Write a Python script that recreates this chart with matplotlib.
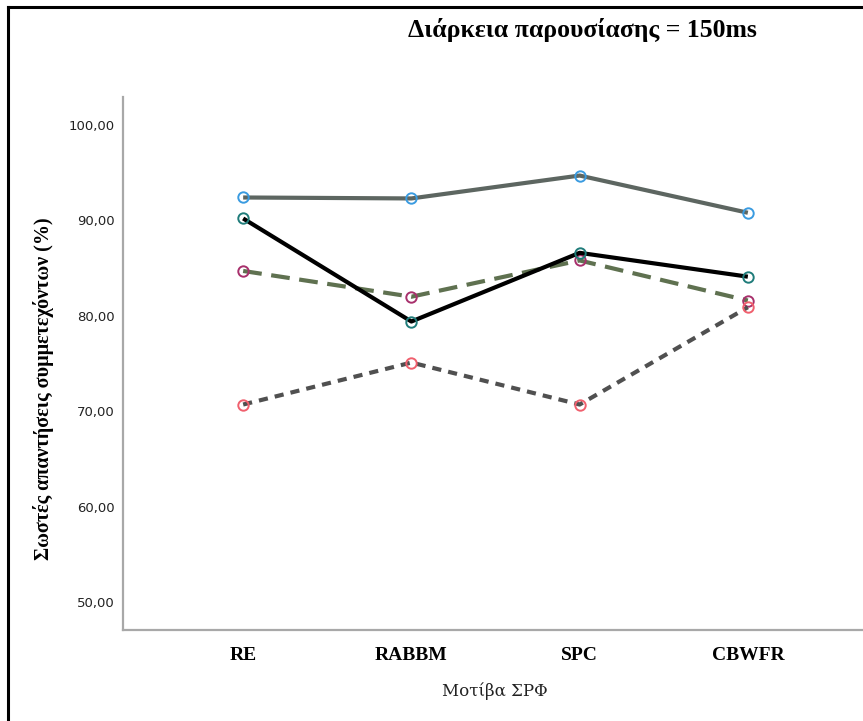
import matplotlib
matplotlib.use("Agg")
import matplotlib.pyplot as plt
from matplotlib.lines import Line2D
from matplotlib.ticker import FuncFormatter

categories = ["RE", "RABBM", "SPC", "CBWFR"]
series_a = [92.4, 92.3, 94.7, 90.8]   # grey solid
series_b = [90.2, 79.4, 86.6, 84.1]   # black solid
series_c = [84.7, 82.0, 85.8, 81.6]   # green dashed
series_d = [70.7, 75.1, 70.7, 80.9]   # dark grey dotted
yticks = [50, 60, 70, 80, 90, 100]

fig = plt.figure(figsize=(8.63, 7.21), dpi=100)
ax = fig.add_axes([123/863, 1-630/721, (863-123)/863, (630-97)/721])

x = list(range(len(categories)))
ms = 7.5
ax.plot(x, series_a, color="#5d6661", lw=3.0, solid_capstyle="butt",
        marker="o", ms=ms, mfc="none", mec="#3a9be0", mew=1.4, zorder=3)
ax.plot(x, series_b, color="#000000", lw=3.0, solid_capstyle="butt",
        marker="o", ms=ms, mfc="none", mec="#1f7c7a", mew=1.4, zorder=4)
ax.plot(x, series_c, color="#5f7150", lw=3.0, linestyle=(0, (4.5, 2.3)),
        marker="o", ms=ms, mfc="none", mec="#a8306c", mew=1.4, zorder=3)
ax.plot(x, series_d, color="#505050", lw=3.0, linestyle=(0, (2.2, 1.7)),
        marker="o", ms=ms, mfc="none", mec="#f0606e", mew=1.4, zorder=3)

ax.set_xlim(-120/168, 3 + 115/168)
ax.set_ylim(50 - 28/9.55, 100 + 28/9.55)
ax.set_yticks(yticks)
ax.yaxis.set_major_formatter(FuncFormatter(lambda v, p: f"{v:.2f}".replace(".", ",")))
ax.set_xticks(x)
ax.set_xticklabels(categories, fontfamily="Liberation Serif", fontweight="bold", fontsize=14)
for lab in ax.get_yticklabels():
    lab.set_fontfamily("DejaVu Sans")
    lab.set_fontsize(9.5)
    lab.set_color("#222222")
ax.tick_params(axis="both", length=0)
ax.tick_params(axis="y", pad=6)
ax.tick_params(axis="x", pad=12)

for s in ["top", "right"]:
    ax.spines[s].set_visible(False)
for s in ["left", "bottom"]:
    ax.spines[s].set_color("#a8a8a8")
    ax.spines[s].set_linewidth(1.6)

fig.text(582/863, 1-30/721, "Διάρκεια παρουσίασης = 150ms", ha="center", va="center",
         fontfamily="Liberation Serif", fontweight="bold", fontsize=18.5)
fig.text(43/863, 1-389/721, "Σωστές απαντήσεις συμμετεχόντων (%)", ha="center", va="center",
         rotation=90, fontfamily="Liberation Serif", fontweight="bold", fontsize=14.5)
fig.text(495/863, 1-691/721, "Μοτίβα ΣΡΦ", ha="center", va="center",
         fontfamily="DejaVu Serif", fontsize=12, color="#222222")

# outer frame (top and left visible)
fig.add_artist(Line2D([8/863, 8/863], [0, 1-7/721], transform=fig.transFigure, color="black", lw=2.2))
fig.add_artist(Line2D([8/863, 1], [1-7/721, 1-7/721], transform=fig.transFigure, color="black", lw=2.2))

fig.savefig("out.png", dpi=100)
